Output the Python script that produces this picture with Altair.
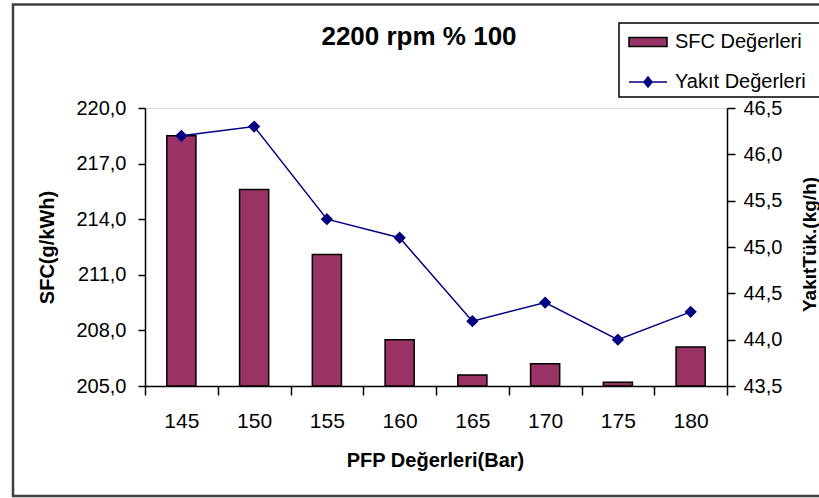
import altair as alt
import pandas as pd

# PFP pressure steps (bar) and the two measured series
pfp = ["145", "150", "155", "160", "165", "170", "175", "180"]
sfc = [218.5, 215.6, 212.1, 207.5, 205.6, 206.2, 205.2, 207.1]      # g/kWh
yakit = [46.2, 46.3, 45.3, 45.1, 44.2, 44.4, 44.0, 44.3]            # kg/h

sfc_ticks = [205.0, 208.0, 211.0, 214.0, 217.0, 220.0]
yakit_ticks = [43.5, 44.0, 44.5, 45.0, 45.5, 46.0, 46.5]

sfc_name = "SFC Değerleri"
yakit_name = "Yakıt Değerleri"
sfc_color = "#993366"
yakit_color = "#000080"

df = pd.DataFrame({
    "PFP": pfp,
    "SFC": sfc,
    "Yakit": yakit,
    "s1": [sfc_name] * len(pfp),
    "s2": [yakit_name] * len(pfp),
})

FONT = "Liberation Sans"
comma_fmt = "replace(format(datum.value, '.1f'), '.', ',')"

# custom legend glyphs: a filled bar and a line with a diamond marker
bar_shape = "M-1,-0.24H1V0.24H-1Z"
line_shape = "M-1,0H1M0,-0.27L0.21,0L0,0.27L-0.21,0Z"

legend_common = dict(
    title=None,
    orient="none",
    legendX=474,
    padding=0,
    symbolOffset=9,
    labelOffset=7,
    rowPadding=0,
    symbolSize=1444,
    labelFont=FONT,
    labelFontSize=20,
    labelColor="#000000",
    labelLimit=400,
)

sfc_legend = alt.Legend(
    legendY=-86,
    symbolType=bar_shape,
    symbolStrokeColor="#000000",
    symbolStrokeWidth=1.5,
    symbolFillColor=sfc_color,
    **legend_common,
)
yakit_legend = alt.Legend(
    legendY=-46,
    symbolType=line_shape,
    symbolStrokeColor=yakit_color,
    symbolStrokeWidth=1.5,
    symbolFillColor=yakit_color,
    **legend_common,
)

base = alt.Chart(df).encode(
    x=alt.X(
        "PFP:O",
        sort=pfp,
        scale=alt.Scale(paddingInner=0, paddingOuter=0),
        axis=alt.Axis(
            title="PFP Değerleri(Bar)",
            titleFont=FONT,
            titleFontSize=20,
            titleFontWeight="bold",
            titleColor="#000000",
            titleX=290,
            titleY=74,
            titleBaseline="middle",
            titleAlign="center",
            labelAngle=0,
            labelFont=FONT,
            labelFontSize=21,
            labelColor="#000000",
            labelPadding=15,
            tickBand="extent",
            tickSize=9,
            tickColor="#000000",
            tickWidth=1.5,
            domainColor="#000000",
            domainWidth=1.5,
            grid=False,
        ),
    )
)

bars = base.mark_bar(
    width=alt.RelativeBandSize(0.4), stroke="#000000", strokeWidth=1.5
).encode(
    y=alt.Y(
        "SFC:Q",
        scale=alt.Scale(domain=[205, 220], zero=False, nice=False),
        axis=alt.Axis(
            title="SFC(g/kWh)",
            values=sfc_ticks,
            labelExpr=comma_fmt,
            titleFont=FONT,
            titleFontSize=20,
            titleFontWeight="bold",
            titleColor="#000000",
            titleAngle=270,
            titleX=-98,
            titleY=139,
            titleBaseline="middle",
            titleAlign="center",
            labelFont=FONT,
            labelFontSize=20,
            labelColor="#000000",
            labelPadding=12,
            tickSize=7,
            tickColor="#000000",
            tickWidth=1.5,
            domainColor="#000000",
            domainWidth=1.5,
            grid=False,
        ),
    ),
    y2=alt.datum(205.0),
    fill=alt.Fill("s1:N", scale=alt.Scale(domain=[sfc_name], range=[sfc_color]), legend=sfc_legend),
)

line = base.mark_line(
    strokeWidth=1.5,
    point=alt.OverlayMarkDef(shape="diamond", size=90, filled=True, fill=yakit_color, color=yakit_color),
).encode(
    y=alt.Y(
        "Yakit:Q",
        scale=alt.Scale(domain=[43.5, 46.5], zero=False, nice=False),
        axis=alt.Axis(
            orient="right",
            title="YakıtTük.(kg/h)",
            values=yakit_ticks,
            labelExpr=comma_fmt,
            titleFont=FONT,
            titleFontSize=19,
            titleFontWeight="bold",
            titleColor="#000000",
            titleAngle=270,
            titleX=82,
            titleY=136,
            titleBaseline="middle",
            titleAlign="center",
            labelFont=FONT,
            labelFontSize=20,
            labelColor="#000000",
            labelPadding=8,
            tickSize=8,
            tickColor="#000000",
            tickWidth=1.5,
            domainColor="#000000",
            domainWidth=1.5,
            grid=False,
        ),
    ),
    stroke=alt.Stroke("s2:N", scale=alt.Scale(domain=[yakit_name], range=[yakit_color]), legend=yakit_legend),
)

deco = alt.Chart(pd.DataFrame({"k": [0]}))

# outer chart frame
frame = deco.mark_rect(fill=None, stroke="#404040", strokeWidth=2.5, clip=False).encode(
    x=alt.value(-132), x2=alt.value(700), y=alt.value(-103.5), y2=alt.value(388)
)
# legend box
legend_box = deco.mark_rect(fill="#ffffff", stroke="#000000", strokeWidth=1.5, clip=False).encode(
    x=alt.value(474), x2=alt.value(700), y=alt.value(-85), y2=alt.value(-11)
)

chart = (
    alt.layer(frame, legend_box, bars, line)
    .resolve_scale(y="independent", fill="independent", stroke="independent")
    .properties(
        width=582,
        height=278,
        title=alt.TitleParams(
            text="2200 rpm % 100",
            font=FONT,
            fontSize=26,
            fontWeight="bold",
            color="#000000",
            anchor="middle",
            dx=-17,
            dy=47,
            offset=0,
        ),
        autosize=alt.AutoSizeParams(type="none"),
        padding={"left": 145, "top": 108, "right": 92, "bottom": 112},
        background="#ffffff",
    )
    .configure_view(fill="#c0c0c0", stroke="#808080", strokeWidth=1.5)
    .configure(font=FONT)
)

chart.save("out.html", embed_options={"renderer": "svg", "actions": False})
